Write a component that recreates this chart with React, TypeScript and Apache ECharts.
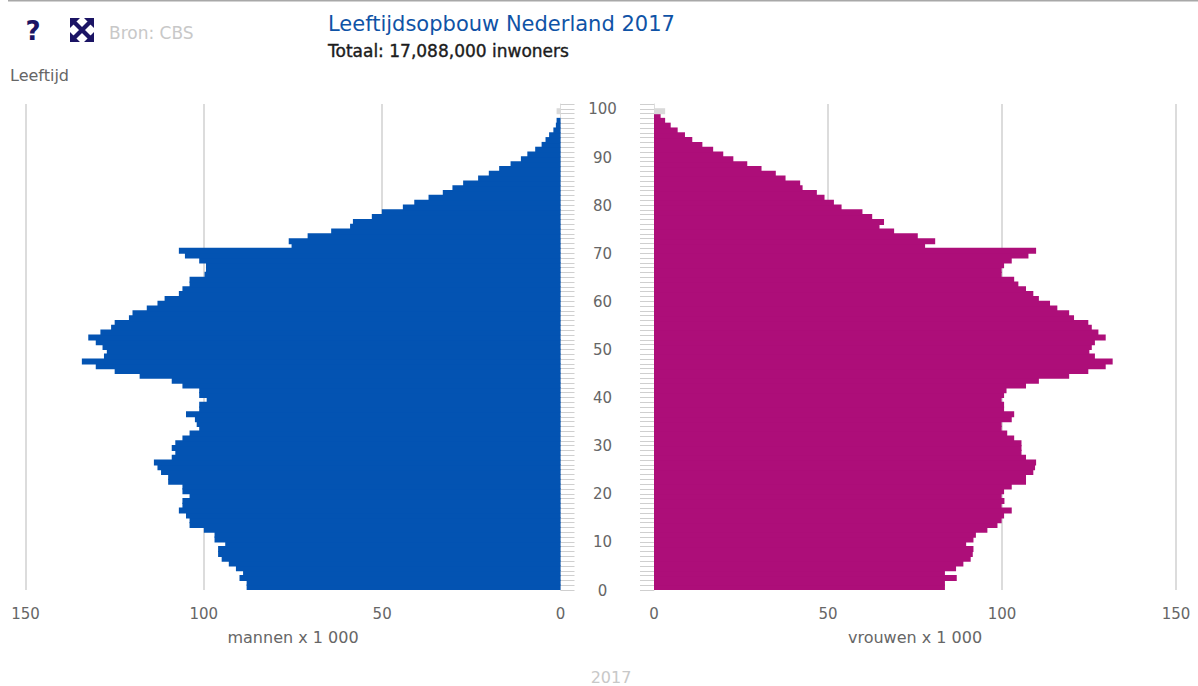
import React, { useEffect, useRef } from "react";
import * as echarts from "echarts";

const ages: number[] = Array.from({ length: 101 }, (_, i) => i);
const mannen = [
  88, 88, 90, 89, 91, 93, 95, 96, 96, 94,
  97, 97, 100, 104, 104, 105, 107, 106, 106, 104,
  106, 106, 110, 110, 112, 113, 114, 109, 108, 109,
  108, 106, 104, 101.3, 102, 102.5, 105, 101.3, 101.3, 99.2,
  101.3, 101.3, 106, 109, 118, 125, 130.3, 134.2, 128, 127.2,
  128.4, 130.3, 132.4, 129, 126, 125, 121, 120, 116, 113,
  111, 107, 106, 104, 104, 99.8, 99.4, 99.4, 101.3, 105.3,
  107, 75.4, 76.2, 70.9, 64.3, 59, 58.2, 52.9, 50.1, 44.2,
  41, 37, 33, 30.3, 27.3, 23.1, 20.1, 17.2, 14, 11.1,
  9.3, 7.1, 5.3, 4.2, 3.2, 2, 1.3, 1.1, 0, 1.1, 0,
];
const vrouwen = [
  83.6, 83.6, 87, 83.6, 86.8, 88.9, 91, 91.6, 91.8, 89.7,
  91.8, 92.5, 95.8, 98.7, 99.9, 100.6, 102.8, 99.9, 100.7, 99.9,
  100.6, 102.8, 106.9, 106.9, 109, 109.5, 109.8, 106.9, 105.6, 105.6,
  105.6, 103.5, 101.5, 99.9, 99.9, 102.8, 103.5, 100.6, 100.6, 99.9,
  100.6, 101.3, 106.9, 110.6, 119.3, 124.8, 129.8, 131.8, 126.7, 125.1,
  125.8, 126.7, 129.8, 127.7, 125.8, 124.8, 120.7, 119.3, 115.9, 113.8,
  110.6, 109, 106.9, 104.7, 103.5, 99.9, 99.9, 100.6, 102.8, 107.6,
  109.8, 77.9, 80.8, 75.8, 69, 64.8, 66.1, 62.7, 59.9, 53.9,
  51.7, 49, 46.8, 42.7, 42, 37.8, 35, 30.9, 26.8, 22.8,
  19.9, 17, 13.9, 11, 8.9, 6.8, 4.8, 3.2, 1.9, 3.2, 0,
];
const greyedAge = 99;

const BLUE = "#0353b2";
const MAGENTA = "#ad0e79";
const GRID = "#d0d0d0";
const LABEL = "#666666";
const FONT = '"DejaVu Sans", sans-serif';

echarts.graphic.registerShape(
  "expandIcon",
  echarts.graphic.extendPath(
    "M0 0H10L0 10ZM24 0V10L14 0ZM0 24V14L10 24ZM24 24H14L24 14ZM5 2L22 19L19 22L2 5ZM19 2L22 5L5 22L2 19Z",
    {}
  )
);

const toData = (values: number[], grey: string) =>
  values.map((v, i) => (i === greyedAge ? { value: v, itemStyle: { color: grey } } : v));

const xAxisBase = {
  type: "value" as const,
  min: 0,
  max: 150,
  interval: 50,
  nameLocation: "middle" as const,
  nameGap: 39,
  nameTextStyle: { color: LABEL, fontSize: 16, fontFamily: FONT },
  axisLine: { show: false },
  axisTick: { show: false },
  axisLabel: { color: LABEL, fontSize: 15, fontFamily: FONT, margin: 16 },
  splitLine: { show: true, showMinLine: false, lineStyle: { color: GRID, width: 1.5 } },
};

const yAxisBase = {
  type: "category" as const,
  data: ages,
  axisLine: { show: true, lineStyle: { color: "#dddddd", width: 1 } },
  axisTick: { show: true, length: 14, interval: 0, lineStyle: { color: "#cfcfcf", width: 1 } },
  splitLine: { show: false },
};

export default function App() {
  const ref = useRef<HTMLDivElement>(null);
  useEffect(() => {
    const chart = echarts.init(ref.current!, null, { renderer: "svg" });
    chart.setOption({
      animation: false,
      backgroundColor: "#ffffff",
      title: [
        {
          text: "Leeftijdsopbouw Nederland 2017",
          left: 323,
          top: 8,
          textStyle: { color: "#0f53a6", fontSize: 21, fontWeight: "normal", fontFamily: FONT },
        },
        {
          text: "Totaal: 17,088,000 inwoners",
          left: 323,
          top: 37,
          textStyle: {
            color: "#1c1c1c",
            fontSize: 17,
            fontWeight: "normal",
            fontFamily: FONT,
            textBorderColor: "#1c1c1c",
            textBorderWidth: 0.4,
          },
        },
      ],
      grid: [
        { left: 25.5, width: 535, top: 104, height: 486 },
        { left: 654, width: 522, top: 104, height: 486 },
      ],
      xAxis: [
        { ...xAxisBase, gridIndex: 0, inverse: true, name: "mannen x 1 000" },
        { ...xAxisBase, gridIndex: 1, name: "vrouwen x 1 000" },
      ],
      yAxis: [
        {
          ...yAxisBase,
          gridIndex: 0,
          position: "right",
          axisLabel: {
            show: true,
            interval: (i: number) => i % 10 === 0,
            color: LABEL,
            fontSize: 15,
            fontFamily: FONT,
            align: "center",
            verticalAlign: "top",
            lineHeight: 6,
            margin: 42,
          },
        },
        { ...yAxisBase, gridIndex: 1, position: "left", axisLabel: { show: false } },
      ],
      series: [
        {
          type: "bar",
          xAxisIndex: 0,
          yAxisIndex: 0,
          barWidth: 6,
          silent: true,
          itemStyle: { color: BLUE },
          data: toData(mannen, "#d9d9d9"),
        },
        {
          type: "bar",
          xAxisIndex: 1,
          yAxisIndex: 1,
          barWidth: 6,
          silent: true,
          itemStyle: { color: MAGENTA },
          data: toData(vrouwen, "#d9d9d9"),
        },
      ],
      graphic: [
        { type: "line", shape: { x1: 8, y1: 0.5, x2: 1198, y2: 0.5 }, style: { stroke: "#a8a8a8", lineWidth: 2 } },
        {
          type: "text",
          x: 33,
          y: 31,
          style: { text: "?", fill: "#1b1464", fontSize: 26, fontWeight: "bold", fontFamily: FONT, align: "center", verticalAlign: "middle" },
        },
        { type: "expandIcon", x: 70, y: 18, style: { fill: "#1b1464" } },
        {
          type: "text",
          x: 109,
          y: 33,
          style: { text: "Bron: CBS", fill: "#c8c8c8", fontSize: 17, fontFamily: FONT, align: "left", verticalAlign: "middle" },
        },
        {
          type: "text",
          x: 10,
          y: 75,
          style: { text: "Leeftijd", fill: LABEL, fontSize: 16, fontFamily: FONT, align: "left", verticalAlign: "middle" },
        },
        {
          type: "text",
          x: 611,
          y: 677,
          style: { text: "2017", fill: "#c8c8c8", fontSize: 16, fontFamily: FONT, align: "center", verticalAlign: "middle" },
        },
      ],
    });
    return () => chart.dispose();
  }, []);
  return <div ref={ref} style={{ position: "absolute", left: 0, top: 0, width: 1198, height: 686 }} />;
}
